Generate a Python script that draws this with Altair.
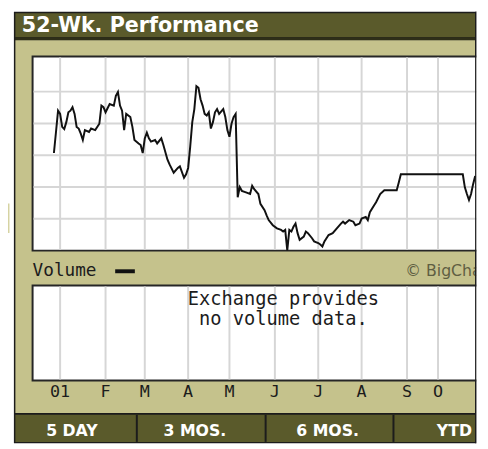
import altair as alt
import pandas as pd

# ---- data ----
trade_day = [
    -3, -2, -1, 0, 1, 2, 3, 4, 5, 6,
    7, 8, 9, 10, 11, 12, 14, 15, 17, 19,
    20, 21, 22, 24, 26, 27, 28, 29, 30, 31,
    32, 34, 35, 36, 38, 39, 40, 41, 42, 43,
    44, 46, 47, 49, 50, 52, 53, 55, 57, 58,
    60, 61, 62, 63, 64, 65, 66, 67, 68, 69,
    70, 71, 72, 73, 74, 75, 76, 77, 79, 80,
    81, 82, 83, 84, 85, 86, 87, 88, 90, 92,
    93, 94, 96, 97, 99, 100, 101, 103, 105, 107,
    108, 109, 110, 111, 112, 113, 114, 115, 116, 118,
    119, 120, 122, 123, 125, 126, 127, 128, 130, 132,
    134, 136, 137, 138, 140, 142, 143, 145, 146, 148,
    149, 150, 152, 153, 155, 157, 163, 164, 165, 195,
    196, 197, 198, 199, 200, 201,
]
price = [
    3.07, 3.73, 4.40, 4.30, 3.89, 3.82, 4.04, 4.35, 4.40, 4.51,
    4.30, 3.89, 3.84, 3.68, 3.48, 3.79, 3.73, 3.84, 3.79, 3.99,
    4.56, 4.51, 4.35, 4.61, 4.56, 4.87, 4.99, 4.56, 4.40, 3.79,
    4.30, 4.20, 3.89, 3.48, 3.37, 3.32, 3.07, 3.53, 3.71, 3.53,
    3.43, 3.48, 3.37, 3.53, 3.32, 2.86, 2.71, 2.45, 2.60, 2.65,
    2.29, 2.40, 2.60, 3.27, 4.04, 4.45, 5.17, 5.12, 4.76, 4.56,
    4.30, 4.25, 4.35, 3.84, 4.04, 4.35, 4.45, 4.30, 4.45, 4.20,
    3.79, 3.58, 3.99, 4.20, 4.30, 1.68, 2.00, 1.88, 1.83, 1.78,
    2.04, 1.93, 1.78, 1.47, 1.27, 1.11, 0.96, 0.80, 0.70, 0.65,
    0.60, 0.65, 0.01, 0.65, 0.60, 0.75, 0.85, 0.55, 0.34, 0.44,
    0.60, 0.55, 0.39, 0.29, 0.24, 0.19, 0.13, 0.29, 0.49, 0.55,
    0.70, 0.85, 0.91, 0.85, 0.96, 0.91, 0.80, 0.85, 1.01, 1.06,
    0.96, 1.21, 1.42, 1.52, 1.78, 1.90, 1.90, 2.14, 2.40, 2.40,
    1.99, 1.78, 1.59, 1.78, 2.09, 2.35,
]
assert len(trade_day) == len(price)

month_pos = [0, 22, 41, 62, 82, 104, 125, 146, 168, 183]
month_labels = ["01", "F", "M", "A", "M", "J", "J", "A", "S", "O"]
grid_levels = [1, 2, 3, 4, 5]
buttons = ["5 DAY", "3 MOS.", "6 MOS.", "YTD"]

title_text = "52-Wk. Performance"
volume_text = "Volume"
credit_text = "\u00a9 BigCharts"
novol_lines = ["Exchange provides", "no volume data."]

# ---- frames ----
series = pd.DataFrame({"day": trade_day, "price": price})
months = pd.DataFrame({"day": month_pos, "label": month_labels})
levels = pd.DataFrame({"price": grid_levels})
one = pd.DataFrame({"k": [0]})

# ---- styles ----
OLIVE = "#5a5a2b"
KHAKI = "#c5c28c"
DARK = "#1c1c1c"
GRID = "#d6d6d6"
MONO = "DejaVu Sans Mono"
SANS = "DejaVu Sans"

xscale = alt.Scale(domain=[0, 183], range=[53, 437.3], zero=False, nice=False)
yscale = alt.Scale(domain=[0, 5], range=[243, 81.3], zero=False, nice=False)


def box(x0, x1, y0, y1, color):
    return alt.Chart(one).mark_rect(color=color, strokeWidth=0).encode(
        x=alt.value(x0), x2=alt.value(x1), y=alt.value(y0), y2=alt.value(y1)
    )


def label(txt, x, y, size, color, font, weight="normal", align="left"):
    return alt.Chart(one).mark_text(
        text=txt, align=align, baseline="alphabetic", fontSize=size,
        font=font, fontWeight=weight, color=color
    ).encode(x=alt.value(x), y=alt.value(y))


layers = [
    box(6, 476.5, 0, 439, DARK),
    box(7.5, 475, 1.5, 26, OLIVE),
    box(7.5, 475, 26, 29, "#2e2e18"),
    box(7.5, 475, 29, 408, KHAKI),
    box(7.5, 475, 408, 410, DARK),
    box(7.5, 475, 410, 437.5, OLIVE),
    box(130, 132, 410, 437.5, DARK),
    box(261, 263, 410, 437.5, DARK),
    box(391, 393, 410, 437.5, DARK),
    box(0, 1.5, 195, 225, "#d6d3a2"),
    # upper plot
    box(24, 480, 44.5, 244, "#262626"),
    box(26, 480, 46.5, 242, "white"),
    # lower plot
    box(24, 480, 277.5, 376, "#262626"),
    box(26, 480, 279.5, 374, "white"),
]

vgrid_top = alt.Chart(months).mark_rule(color=GRID, strokeWidth=2).encode(
    x=alt.X("day:Q", scale=xscale, axis=None),
    y=alt.value(46.5), y2=alt.value(242),
)
vgrid_bot = alt.Chart(months).mark_rule(color=GRID, strokeWidth=2).encode(
    x=alt.X("day:Q", scale=xscale, axis=None),
    y=alt.value(279.5), y2=alt.value(374),
)
hgrid = alt.Chart(levels).mark_rule(color=GRID, strokeWidth=2).encode(
    y=alt.Y("price:Q", scale=yscale, axis=None),
    x=alt.value(26), x2=alt.value(480),
)
price_line = alt.Chart(series).mark_line(color="#111111", strokeWidth=2).encode(
    x=alt.X("day:Q", scale=xscale, axis=None),
    y=alt.Y("price:Q", scale=yscale, axis=None),
)
month_text = alt.Chart(months).mark_text(
    fontSize=17, font=MONO, color=DARK, baseline="alphabetic", align="center"
).encode(
    x=alt.X("day:Q", scale=xscale, axis=None),
    y=alt.value(392),
    text="label:N",
)

layers += [vgrid_top, vgrid_bot, hgrid, price_line, month_text]

layers += [
    label(title_text, 14, 21, 21, "white", SANS, "bold"),
    label(volume_text, 25, 269, 18, DARK, MONO),
    box(109, 129, 262, 266, "#111111"),
    label(credit_text, 404, 269, 16, "#5f5e42", SANS),
    label(novol_lines[0], 280, 298.5, 19, DARK, MONO, align="center"),
    label(novol_lines[1], 280, 318.5, 19, DARK, MONO, align="center"),
]

button_centers = [65, 190, 325, 454]
for txt, cx in zip(buttons, button_centers):
    layers.append(label(txt, cx, 432, 16, "white", SANS, "bold", align="center"))

# right edge of the widget (clips the plot panels)
layers += [
    box(475, 476.5, 0, 439, DARK),
    box(476.5, 480, 0, 441, "white"),
]

chart = alt.layer(*layers).properties(
    width=480,
    height=441,
    autosize=alt.AutoSizeParams(type="none"),
    padding=0,
    background="white",
).configure_view(strokeWidth=0)

chart.save("out.html", embed_options={"renderer": "svg", "actions": False})
